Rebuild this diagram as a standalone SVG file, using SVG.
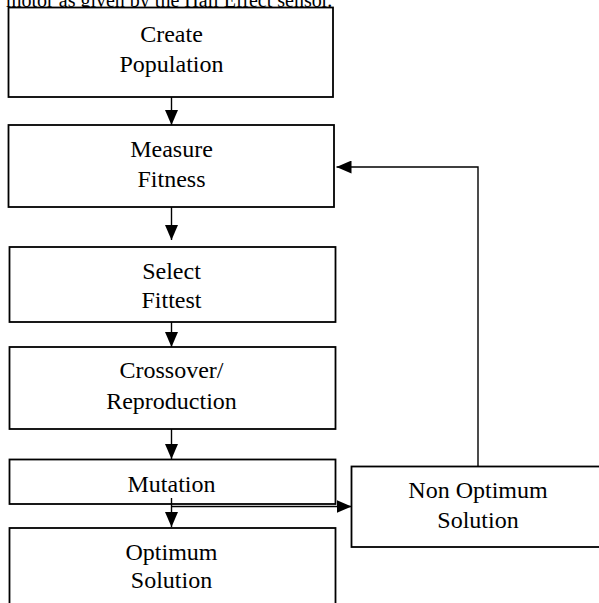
<svg xmlns="http://www.w3.org/2000/svg" width="599" height="603" viewBox="0 0 599 603">
<style>
.box{fill:#fff;stroke:#000;stroke-width:1.8}
.t{font-family:"Liberation Serif","Times New Roman",serif;font-size:24px;fill:#000;text-anchor:middle}
.cap{font-family:"Liberation Serif","Times New Roman",serif;font-size:20px;fill:#000}
.ln{fill:none;stroke:#000;stroke-width:1.4}
</style>
<defs>
<marker id="ah" viewBox="0 0 15 13" refX="15" refY="6.5" markerWidth="15" markerHeight="13" markerUnits="userSpaceOnUse" orient="auto">
<path d="M0,0 L15,6.5 L0,13 Z" fill="#000"/>
</marker>
</defs>
<rect width="599" height="603" fill="#fff"/>
<text class="cap" x="6" y="7">motor as given by the Hall Effect sensor.</text>
<g id="create">
<rect class="box" x="8.5" y="7.5" width="324.5" height="89.5"/>
<text class="t" x="171.5" y="42">Create</text>
<text class="t" x="171.5" y="72">Population</text>
</g>
<g id="measure">
<rect class="box" x="8.5" y="125" width="325.5" height="82"/>
<text class="t" x="171.5" y="157">Measure</text>
<text class="t" x="171.5" y="187">Fitness</text>
</g>
<g id="select">
<rect class="box" x="9.5" y="247" width="326" height="75"/>
<text class="t" x="171.5" y="279">Select</text>
<text class="t" x="171.5" y="308">Fittest</text>
</g>
<g id="crossover">
<rect class="box" x="9.5" y="347" width="326" height="82"/>
<text class="t" x="171.5" y="378">Crossover/</text>
<text class="t" x="171.5" y="409">Reproduction</text>
</g>
<g id="mutation">
<rect class="box" x="9.5" y="459.5" width="326" height="44.5"/>
<text class="t" x="171.5" y="492">Mutation</text>
</g>
<g id="optimum">
<rect class="box" x="9.5" y="528" width="326" height="90"/>
<text class="t" x="171.5" y="560">Optimum</text>
<text class="t" x="171.5" y="588">Solution</text>
</g>
<g id="nonoptimum">
<rect class="box" x="351.5" y="466.5" width="260" height="80.5"/>
<text class="t" x="478" y="498">Non Optimum</text>
<text class="t" x="478" y="528">Solution</text>
</g>
<g id="connectors">
<line class="ln" x1="171.5" y1="97" x2="171.5" y2="125" marker-end="url(#ah)"/>
<line class="ln" x1="171.5" y1="207" x2="171.5" y2="240" marker-end="url(#ah)"/>
<line class="ln" x1="171.5" y1="322" x2="171.5" y2="347" marker-end="url(#ah)"/>
<line class="ln" x1="171.5" y1="429" x2="171.5" y2="459" marker-end="url(#ah)"/>
<line class="ln" x1="171.5" y1="498" x2="171.5" y2="527" marker-end="url(#ah)"/>
<line class="ln" x1="171.5" y1="506.5" x2="351.5" y2="506.5" marker-end="url(#ah)"/>
<polyline class="ln" points="478,466.5 478,167 336.5,167" marker-end="url(#ah)"/>
</g>
</svg>
